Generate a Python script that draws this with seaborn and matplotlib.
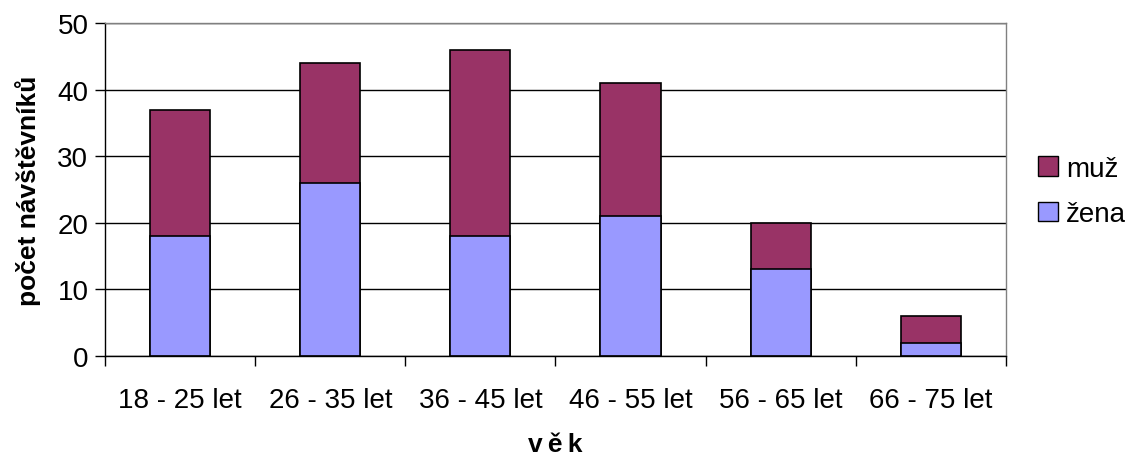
import seaborn as sns
import matplotlib.pyplot as plt
import matplotlib.patches as mpatches
import pandas as pd
import numpy as np

# Data
vek = ['18 - 25 let', '26 - 35 let', '36 - 45 let', '46 - 55 let', '56 - 65 let', '66 - 75 let']
zena = [18, 26, 18, 21, 13, 2]
muz = [19, 18, 28, 20, 7, 4]

df = pd.DataFrame({'vek': vek, 'zena': zena, 'muz': muz})
df['celkem'] = df['zena'] + df['muz']

sns.set_theme(style='white')
plt.rcParams['font.family'] = ['Liberation Sans', 'DejaVu Sans']
plt.rcParams['text.color'] = 'black'
plt.rcParams['axes.labelcolor'] = 'black'
plt.rcParams['xtick.color'] = 'black'
plt.rcParams['ytick.color'] = 'black'

c_muz = '#993366'
c_zena = '#9999FF'

fig = plt.figure(figsize=(11.26, 4.56), dpi=100)
ax = fig.add_axes([0.0933, 0.2171, 0.80, 0.7303])

# stacked: total bar first (muž on top), then žena from the bottom
sns.barplot(data=df, x='vek', y='celkem', color=c_muz, width=0.4,
            edgecolor='black', linewidth=1.2, saturation=1, ax=ax)
sns.barplot(data=df, x='vek', y='zena', color=c_zena, width=0.4,
            edgecolor='black', linewidth=1.2, saturation=1, ax=ax)

ax.set_xlim(-0.5, 5.5)
ax.set_ylim(0, 50)
ax.set_yticks(range(0, 51, 10))
ax.yaxis.grid(True, color='black', linewidth=1)
ax.set_axisbelow(True)

ax.set_xticks(np.arange(-0.5, 6, 1), minor=True)
ax.tick_params(axis='x', which='major', length=0, pad=22, labelsize=20)
ax.tick_params(axis='x', which='minor', length=7, width=1, color='black', direction='out', bottom=True)
ax.tick_params(axis='y', length=7, width=1, color='black', direction='out', left=True, labelsize=20, pad=5)

for s in ['top', 'right']:
    ax.spines[s].set_color('#808080')
    ax.spines[s].set_linewidth(1)
for s in ['left', 'bottom']:
    ax.spines[s].set_color('black')
    ax.spines[s].set_linewidth(1)

ax.set_xlabel('v\u2009ě\u2009k', fontsize=19, fontweight='bold', labelpad=14)
ax.set_ylabel('počet návštěvníků', fontsize=19, fontweight='bold', labelpad=12)

handles = [mpatches.Patch(facecolor=c_muz, edgecolor='black', label='muž'),
           mpatches.Patch(facecolor=c_zena, edgecolor='black', label='žena')]
fig.legend(handles=handles, loc='center left', bbox_to_anchor=(0.922, 0.578),
           frameon=False, fontsize=20, handlelength=0.7, handleheight=0.7,
           handletextpad=0.3, labelspacing=0.7, borderpad=0, borderaxespad=0)

fig.savefig('out.png', dpi=100)
